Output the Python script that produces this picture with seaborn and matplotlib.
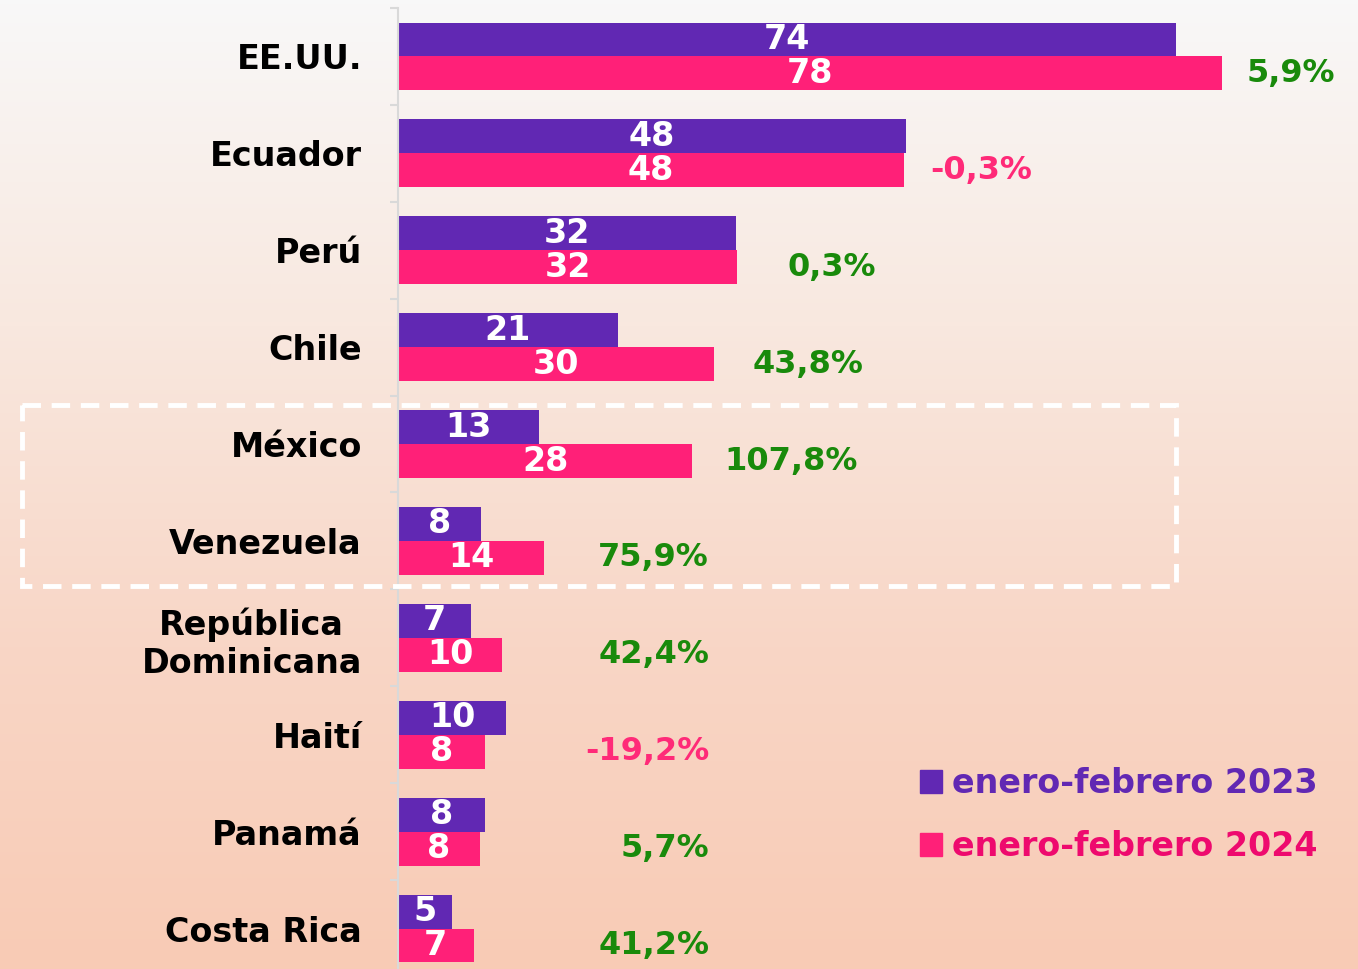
import matplotlib
matplotlib.use("Agg")
import matplotlib.pyplot as plt
import matplotlib.patches as mpatches
import matplotlib.transforms as mtransforms
from matplotlib.colors import LinearSegmentedColormap
import numpy as np
import pandas as pd
import seaborn as sns

countries = ['EE.UU.', 'Ecuador', 'Perú', 'Chile', 'México', 'Venezuela',
             'República\nDominicana', 'Haití', 'Panamá', 'Costa Rica']
ene_feb_2023 = [74.0, 48.3, 32.2, 20.9, 13.4, 7.9, 6.9, 10.3, 8.3, 5.1]
ene_feb_2024 = [78.4, 48.1, 32.3, 30.1, 28.0, 13.9, 9.9, 8.3, 7.8, 7.2]
variacion = ['5,9%', '-0,3%', '0,3%', '43,8%', '107,8%', '75,9%',
             '42,4%', '-19,2%', '5,7%', '41,2%']
series = ['enero-febrero 2023', 'enero-febrero 2024']

# layout of the % labels (data units): first ones follow the bar, rest are right-aligned
pct_x = [80.7, 50.6, 37.1, 33.7, 31.1, 29.6, 29.6, 29.6, 29.6, 29.6]
pct_ha = ['left'] * 5 + ['right'] * 5

purple = '#6128B3'
pink = '#FF2078'
green = '#198A0B'
neg_pink = '#FF2A78'

df = pd.DataFrame({'pais': countries, series[0]: ene_feb_2023, series[1]: ene_feb_2024})
df = df.melt(id_vars='pais', var_name='serie', value_name='valor')

sns.set_style('white')
plt.rcParams['font.family'] = ['DejaVu Sans']

fig = plt.figure(figsize=(13.58, 9.69), dpi=100)

# background gradient
bg = fig.add_axes([0, 0, 1, 1], zorder=-10)
cmap = LinearSegmentedColormap.from_list('bg', ['#f8f8f8', '#f9e8df', '#f8d6c6', '#f8cbb5'])
grad = np.linspace(0, 1, 256).reshape(-1, 1)
bg.imshow(grad, aspect='auto', cmap=cmap, extent=[0, 1, 0, 1], origin='upper')
bg.axis('off')

ax = fig.add_axes([398 / 1358, -8 / 969, 960 / 1358, 1.0])
ax.set_facecolor('none')
sns.barplot(data=df, y='pais', x='valor', hue='serie', orient='h',
            palette=[purple, pink], width=0.7, saturation=1, linewidth=0,
            legend=False, ax=ax)

ax.set_xlim(0, 960 / 10.51)
ax.set_ylim(9.5, -0.5)
ax.set_xlabel('')
ax.set_ylabel('')
ax.set_xticks([])
ax.set_yticks(range(len(countries)))
ax.set_yticklabels(countries, fontsize=24, fontweight='bold', color='black')
ax.get_yticklabels()[6].set_multialignment('center')
# nudge the country names up a little
shift = mtransforms.ScaledTranslation(0, 4 / 100, fig.dpi_scale_trans)
for lab in ax.get_yticklabels():
    lab.set_transform(lab.get_transform() + shift)
ax.set_yticks(np.arange(-0.5, len(countries), 1), minor=True)
ax.tick_params(axis='y', which='major', left=False, length=0, pad=26)
ax.tick_params(axis='y', which='minor', left=True, length=6, width=1.5, color='#d9d9d9')
for s in ['top', 'right', 'bottom']:
    ax.spines[s].set_visible(False)
ax.spines['left'].set_color('#d9d9d9')
ax.spines['left'].set_linewidth(1.5)

for cont in ax.containers:
    ax.bar_label(cont, labels=[f'{v:.0f}' for v in cont.datavalues], label_type='center',
                 color='white', fontsize=24, fontweight='bold')

for i, txt in enumerate(variacion):
    col = neg_pink if txt.startswith('-') else green
    ax.text(pct_x[i], i + 0.175, txt, ha=pct_ha[i], va='center', color=col,
            fontsize=23, fontweight='bold')

# dashed box around México / Venezuela
box = mpatches.Rectangle((-35.8, 3.6), 74 + 35.8, 1.87, fill=False, edgecolor='white',
                         linewidth=3.5, linestyle=(0, (3.8, 2.2)), clip_on=False, zorder=5)
ax.add_patch(box)

handles = [mpatches.Patch(color=purple), mpatches.Patch(color=pink)]
fig.legend(handles, series, loc='upper left', bbox_to_anchor=(920 / 1358, 1 - 767 / 969),
           frameon=False, prop={'weight': 'bold', 'size': 24},
           labelcolor=[purple, '#EE0A6E'], handlelength=0.66, handleheight=0.66,
           handletextpad=0.3, labelspacing=0.9, borderpad=0, borderaxespad=0)

fig.savefig('out.png', dpi=100)
